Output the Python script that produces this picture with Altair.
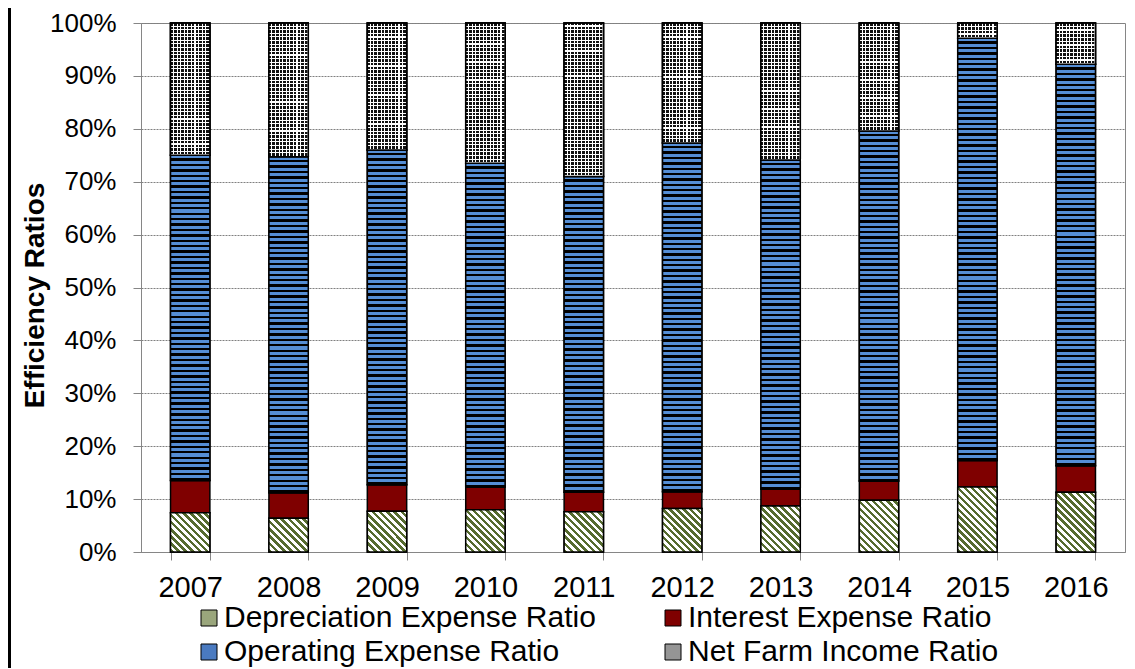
import altair as alt
import pandas as pd

years = ["2007", "2008", "2009", "2010", "2011", "2012", "2013", "2014", "2015", "2016"]
series_names = ["Depreciation Expense Ratio", "Interest Expense Ratio",
                "Operating Expense Ratio", "Net Farm Income Ratio"]
depreciation = [7.4, 6.4, 7.7, 8.0, 7.6, 8.2, 8.7, 9.8, 12.3, 11.3]
interest = [6.1, 4.8, 5.0, 4.3, 3.7, 3.2, 3.2, 3.6, 5.0, 5.0]
operating = [61.5, 63.5, 63.3, 61.2, 59.7, 65.9, 62.2, 66.2, 79.8, 75.9]
net_farm_income = [25.0, 25.3, 24.0, 26.5, 29.0, 22.7, 25.9, 20.4, 2.9, 7.8]
y_ticks = [0, 10, 20, 30, 40, 50, 60, 70, 80, 90, 100]

# legend is laid out column by column: column 1 = Depreciation, Operating
legend_order = [series_names[0], series_names[2], series_names[1], series_names[3]]
legend_colors = ["#9aa67c", "#4a7ac0", "#7f0000", "#959595"]

W, H = 984, 529
BAR_W = 39.4
PX = H / 100.0
FONT = "Liberation Sans"
GRAY = "#868686"
GREEN = "#566b2f"
BLUE = "#558ed5"
CLEAR = "rgba(255,255,255,0)"

rows = []
for i, yr in enumerate(years):
    s = 0.0
    for name, vals in zip(series_names, [depreciation, interest, operating, net_farm_income]):
        v = vals[i]
        rows.append(dict(year=yr, series=name, start=s, end=s + v, value=v))
        s += v
df = pd.DataFrame(rows)


def stripe_stops(c1, c2, frac1, n):
    out = []
    for k in range(n):
        a = k / n
        b = (k + frac1) / n
        c = (k + 1) / n
        out += [(a, c1), (b, c1), (b, c2), (c, c2)]
    return [alt.GradientStop(offset=round(o, 6), color=col) for o, col in out]


def diag_gradient(h_px):
    w = BAR_W
    h = h_px
    n = max(1, round((w + h) / 7.0))
    s = (w + h) / (w * w + h * h)
    return alt.LinearGradient(gradient="linear",
                              stops=stripe_stops(GREEN, "#ffffff", 0.5, n),
                              x1=0, y1=1, x2=round(s * w, 6), y2=round(1 - s * h, 6))


def horiz_gradient(h_px):
    n = max(1, round(h_px / 5.4))
    return alt.LinearGradient(gradient="linear",
                              stops=stripe_stops(BLUE, "#000000", 0.56, n),
                              x1=0, y1=0, x2=0, y2=1)


def checker_cols():
    n = max(1, round(BAR_W / 3.6))
    return alt.LinearGradient(gradient="linear",
                              stops=stripe_stops("#111111", "#ffffff", 0.7, n),
                              x1=0, y1=0, x2=1, y2=0)


def checker_rows(h_px):
    n = max(1, round(h_px / 3.6))
    return alt.LinearGradient(gradient="linear",
                              stops=stripe_stops(CLEAR, "#ffffff", 0.7, n),
                              x1=0, y1=0, x2=0, y2=1)


x_scale = alt.Scale(domain=years, paddingInner=0.6, paddingOuter=0.3)
y_scale = alt.Scale(domain=[0, 100], nice=False)

x_axis = alt.Axis(title=None, labelAngle=0, labelFontSize=29, labelFont=FONT,
                  labelColor="black", labelPadding=13, tickBand="extent",
                  tickSize=8, tickColor=GRAY, domainColor=GRAY, grid=False)
y_axis = alt.Axis(values=y_ticks, labelExpr="datum.value + '%'",
                  title="Efficiency Ratios", titleFontSize=28, titleFontWeight="bold",
                  titleFont=FONT, titleColor="black", titleX=-106, titleY=272,
                  titleAngle=270, titleAlign="center", titleBaseline="middle",
                  labelFontSize=26, labelFont=FONT, labelColor="black",
                  labelPadding=17, tickSize=8, tickColor=GRAY, domainColor=GRAY,
                  grid=True, gridColor="#808080", gridDash=[2, 1], gridWidth=1)


def x_enc():
    return alt.X("year:N", sort=years, scale=x_scale, axis=x_axis)


def y_enc():
    return alt.Y("start:Q", scale=y_scale, axis=y_axis)


base = alt.Chart(df).mark_bar(stroke="black", strokeWidth=1.5).encode(
    x=x_enc(), y=y_enc(), y2="end:Q",
    color=alt.Color("series:N",
                    scale=alt.Scale(domain=legend_order, range=legend_colors),
                    legend=alt.Legend(title=None, orient="none", legendX=53, legendY=580,
                                      columns=2, columnPadding=62, rowPadding=4,
                                      symbolType="square", symbolSize=256,
                                      symbolStrokeColor="black", symbolStrokeWidth=1,
                                      symbolOpacity=1, labelFontSize=30, labelFont=FONT,
                                      labelColor="black", labelLimit=1000, labelOffset=0,
                                      padding=0)),
)


def seg_layer(d, fill):
    return alt.Chart(d).mark_bar(fill=fill, stroke="black", strokeWidth=1.5).encode(
        x=x_enc(), y=y_enc(), y2="end:Q")


overlays = []
for i, yr in enumerate(years):
    sel = df[df.year == yr]
    overlays.append(seg_layer(sel[sel.series == series_names[0]],
                              diag_gradient(depreciation[i] * PX)))
    overlays.append(seg_layer(sel[sel.series == series_names[2]],
                              horiz_gradient(operating[i] * PX)))
    d_nfi = sel[sel.series == series_names[3]]
    overlays.append(seg_layer(d_nfi, checker_cols()))
    overlays.append(seg_layer(d_nfi, checker_rows(net_farm_income[i] * PX)))

border = alt.Chart(pd.DataFrame({"k": [0]})).mark_rule(color="black", strokeWidth=3).encode(
    x=alt.value(-131.5), y=alt.value(-15), y2=alt.value(H + 140))

chart = alt.layer(base, *overlays, border).properties(
    width=W, height=H,
    autosize=alt.AutoSizeParams(type="none"),
    padding={"left": 133, "top": 15, "right": 2, "bottom": 116},
).configure_view(stroke=GRAY, strokeWidth=1)

chart.save("out.html", embed_options={"renderer": "svg", "actions": False})
